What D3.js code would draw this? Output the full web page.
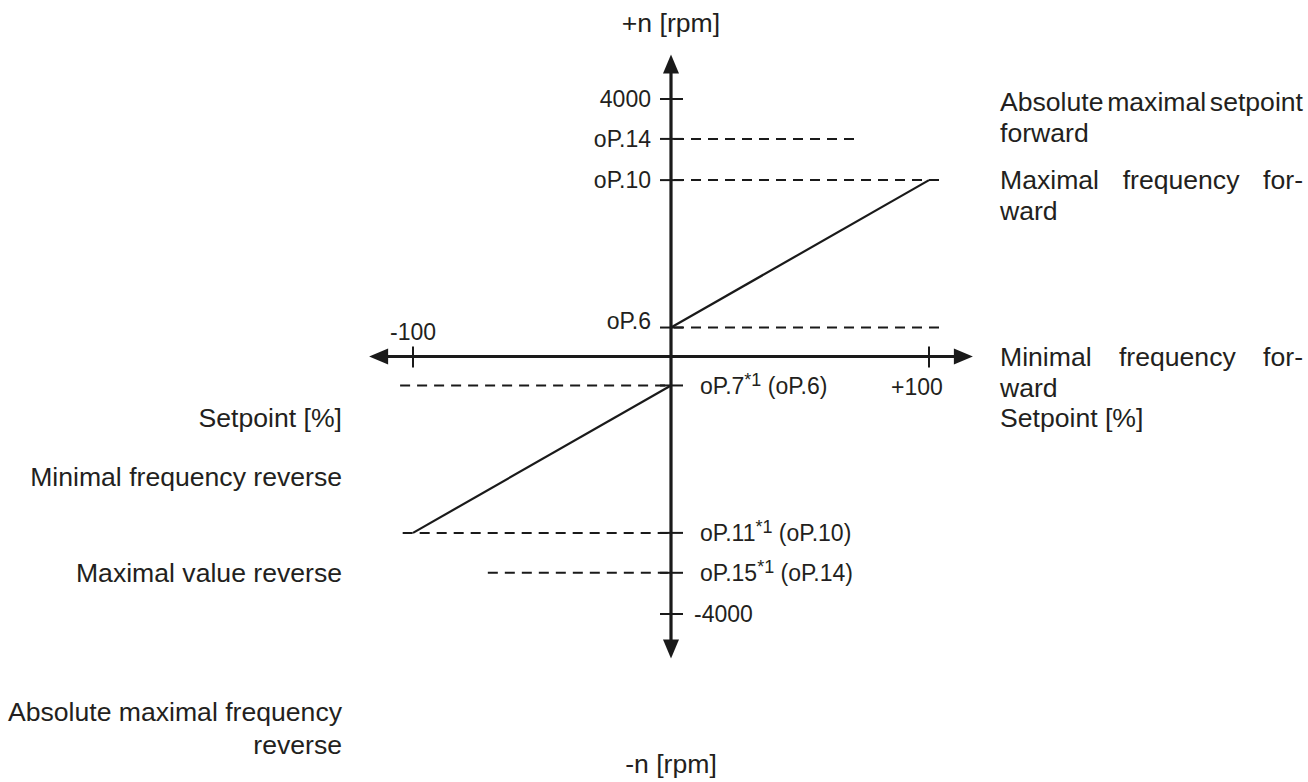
<!DOCTYPE html>
<html><head><meta charset="utf-8">
<script src="https://cdn.jsdelivr.net/npm/d3@7"></script>
<style>
body{margin:0;background:#fff}
svg{display:block}
text{font-family:"Liberation Sans",Arial,Helvetica,sans-serif;fill:#231f20}
</style>
</head><body>
<svg id="c" width="1308" height="782"></svg>
<script>
// ---- data ----
const setpointDomain = [-100, 100];
const speedDomain = [-4000, 4000];
const xTickValues = [-100, 100];
const xTickLabels = ["-100", "+100"];
const yLimitValues = [4000, -4000];
const yLimitLabels = ["4000", "-4000"];
const paramNames = ["oP.14", "oP.10", "oP.6", "oP.7", "oP.11", "oP.15"];
const paramValues = [3380, 2740, 450, -450, -2740, -3360];
const paramDefaults = [null, null, null, "oP.6", "oP.10", "oP.14"];
const paramRefFrom = [0, 0, 0, -105, -104, -71];
const paramRefTo = [71, 104, 104, 0, 0, 0];
const forwardCurve = [[0, 450], [100, 2740]];
const reverseCurve = [[0, -450], [-100, -2740]];
const speedTitles = ["+n [rpm]", "-n [rpm]"];
const setpointTitle = "Setpoint [%]";
const forwardNotes = [["Absolute maximal setpoint", "forward"], ["Maximal frequency for-", "ward"], ["Minimal frequency for-", "ward"]];
const reverseNotes = [["Minimal frequency reverse"], ["Maximal value reverse"], ["Absolute maximal frequency", "reverse"]];

// ---- layout ----
const svg = d3.select("#c");
const x = d3.scaleLinear().domain(setpointDomain).range([413, 929]);
const y = d3.scaleLinear().domain(speedDomain).range([614, 99]);
const x0 = x(0), y0 = y(0);
const ink = "#1a1a1a";
const tickFont = 23, noteFont = 26.6;

// reference (dashed) lines
paramNames.forEach((n, i) => {
  svg.append("line")
    .attr("x1", x(paramRefFrom[i])).attr("x2", x(paramRefTo[i]))
    .attr("y1", y(paramValues[i])).attr("y2", y(paramValues[i]))
    .attr("stroke", ink).attr("stroke-width", 2).attr("stroke-dasharray", "10,7")
    .attr("stroke-dashoffset", paramRefFrom[i] < 0 ? 0 : -3);
});

// characteristic curves
const line = d3.line().x(d => x(d[0])).y(d => y(d[1]));
[forwardCurve, reverseCurve].forEach(c => {
  svg.append("path").attr("d", line(c)).attr("fill", "none").attr("stroke", ink).attr("stroke-width", 2.2);
});

// axes
const extX = 117, extY = 4690;
svg.append("line").attr("x1", x(-extX) + 14).attr("x2", x(extX) - 14).attr("y1", y0).attr("y2", y0)
  .attr("stroke", ink).attr("stroke-width", 3.2);
svg.append("line").attr("x1", x0).attr("x2", x0).attr("y1", y(extY) + 14).attr("y2", y(-extY) - 14)
  .attr("stroke", ink).attr("stroke-width", 3.2);
const head = 19, half = 8;
const heads = [
  [[x(extX), y0], [x(extX) - head, y0 - half], [x(extX) - head, y0 + half]],
  [[x(-extX), y0], [x(-extX) + head, y0 - half], [x(-extX) + head, y0 + half]],
  [[x0, y(extY)], [x0 - half, y(extY) + head], [x0 + half, y(extY) + head]],
  [[x0, y(-extY)], [x0 - half, y(-extY) - head], [x0 + half, y(-extY) - head]]
];
heads.forEach(h => svg.append("path").attr("d", "M" + h.join("L") + "Z").attr("fill", ink));

// x ticks
xTickValues.forEach((v, i) => {
  svg.append("line").attr("x1", x(v)).attr("x2", x(v)).attr("y1", y0 - 10).attr("y2", y0 + 11)
    .attr("stroke", ink).attr("stroke-width", 2);
  svg.append("text").attr("x", v < 0 ? x(v) : x(v) - 12).attr("y", v < 0 ? y0 - 25 : y0 + 30)
    .attr("text-anchor", "middle").attr("font-size", tickFont).attr("dy", "0.35em").text(xTickLabels[i]);
});

// y ticks: limits + parameters
const yTicks = yLimitValues.map((v, i) => ({v, label: yLimitLabels[i]}))
  .concat(paramNames.map((n, i) => ({v: paramValues[i], label: n, def: paramDefaults[i]})));
yTicks.forEach(t => {
  svg.append("line").attr("x1", x0 - 11).attr("x2", x0 + 12).attr("y1", y(t.v)).attr("y2", y(t.v))
    .attr("stroke", ink).attr("stroke-width", 2);
  const pos = t.v > 0;
  const txt = svg.append("text").attr("font-size", tickFont).attr("dy", "0.35em")
    .attr("y", y(t.v) - (t.label === "oP.6" ? 7 : 0))
    .attr("x", pos ? x0 - 20 : x0 + (t.def ? 29 : 23))
    .attr("text-anchor", pos ? "end" : "start");
  txt.append("tspan").text(t.label);
  if (t.def) {
    txt.append("tspan").attr("font-size", 18).attr("dy", -8).text("*1");
    txt.append("tspan").attr("dy", 8).text(" (" + t.def + ")");
  }
});

// axis titles
svg.append("text").attr("x", x0).attr("y", 23).attr("dy", "0.35em").attr("text-anchor", "middle")
  .attr("font-size", noteFont).text(speedTitles[0]);
svg.append("text").attr("x", x0).attr("y", 764).attr("dy", "0.35em").attr("text-anchor", "middle")
  .attr("font-size", noteFont).text(speedTitles[1]);

// justified text helper
function measure(s) {
  const t = svg.append("text").attr("font-size", noteFont).text(s);
  const w = t.node().getComputedTextLength(); t.remove(); return w;
}
function justified(s, left, yy, width) {
  const words = s.split(" ");
  const ws = words.map(measure);
  const gap = (width - d3.sum(ws)) / (words.length - 1);
  let cx = left;
  words.forEach((w, i) => {
    svg.append("text").attr("x", cx).attr("y", yy).attr("dy", "0.35em").attr("font-size", noteFont).text(w);
    cx += ws[i] + gap;
  });
}
function plain(s, xx, yy, anchor) {
  svg.append("text").attr("x", xx).attr("y", yy).attr("dy", "0.35em").attr("font-size", noteFont)
    .attr("text-anchor", anchor).text(s);
}

// right-hand notes (forward)
const rightX = 1000, rightW = 303, lh = 31;
const forwardAnchors = [y(4000) + 3, y(paramValues[1]), y0];
forwardNotes.forEach((lines, i) => {
  justified(lines[0], rightX, forwardAnchors[i], rightW);
  plain(lines[1], rightX, forwardAnchors[i] + lh, "start");
});
plain(setpointTitle, rightX, y0 + 61, "start");

// left-hand notes (reverse)
const leftX = 342;
plain(setpointTitle, leftX, y0 + 61, "end");
const reverseAnchors = [477, 573, 712];
reverseNotes.forEach((lines, i) => {
  lines.forEach((l, j) => plain(l, leftX, reverseAnchors[i] + j * 33, "end"));
});
</script>
</body></html>
